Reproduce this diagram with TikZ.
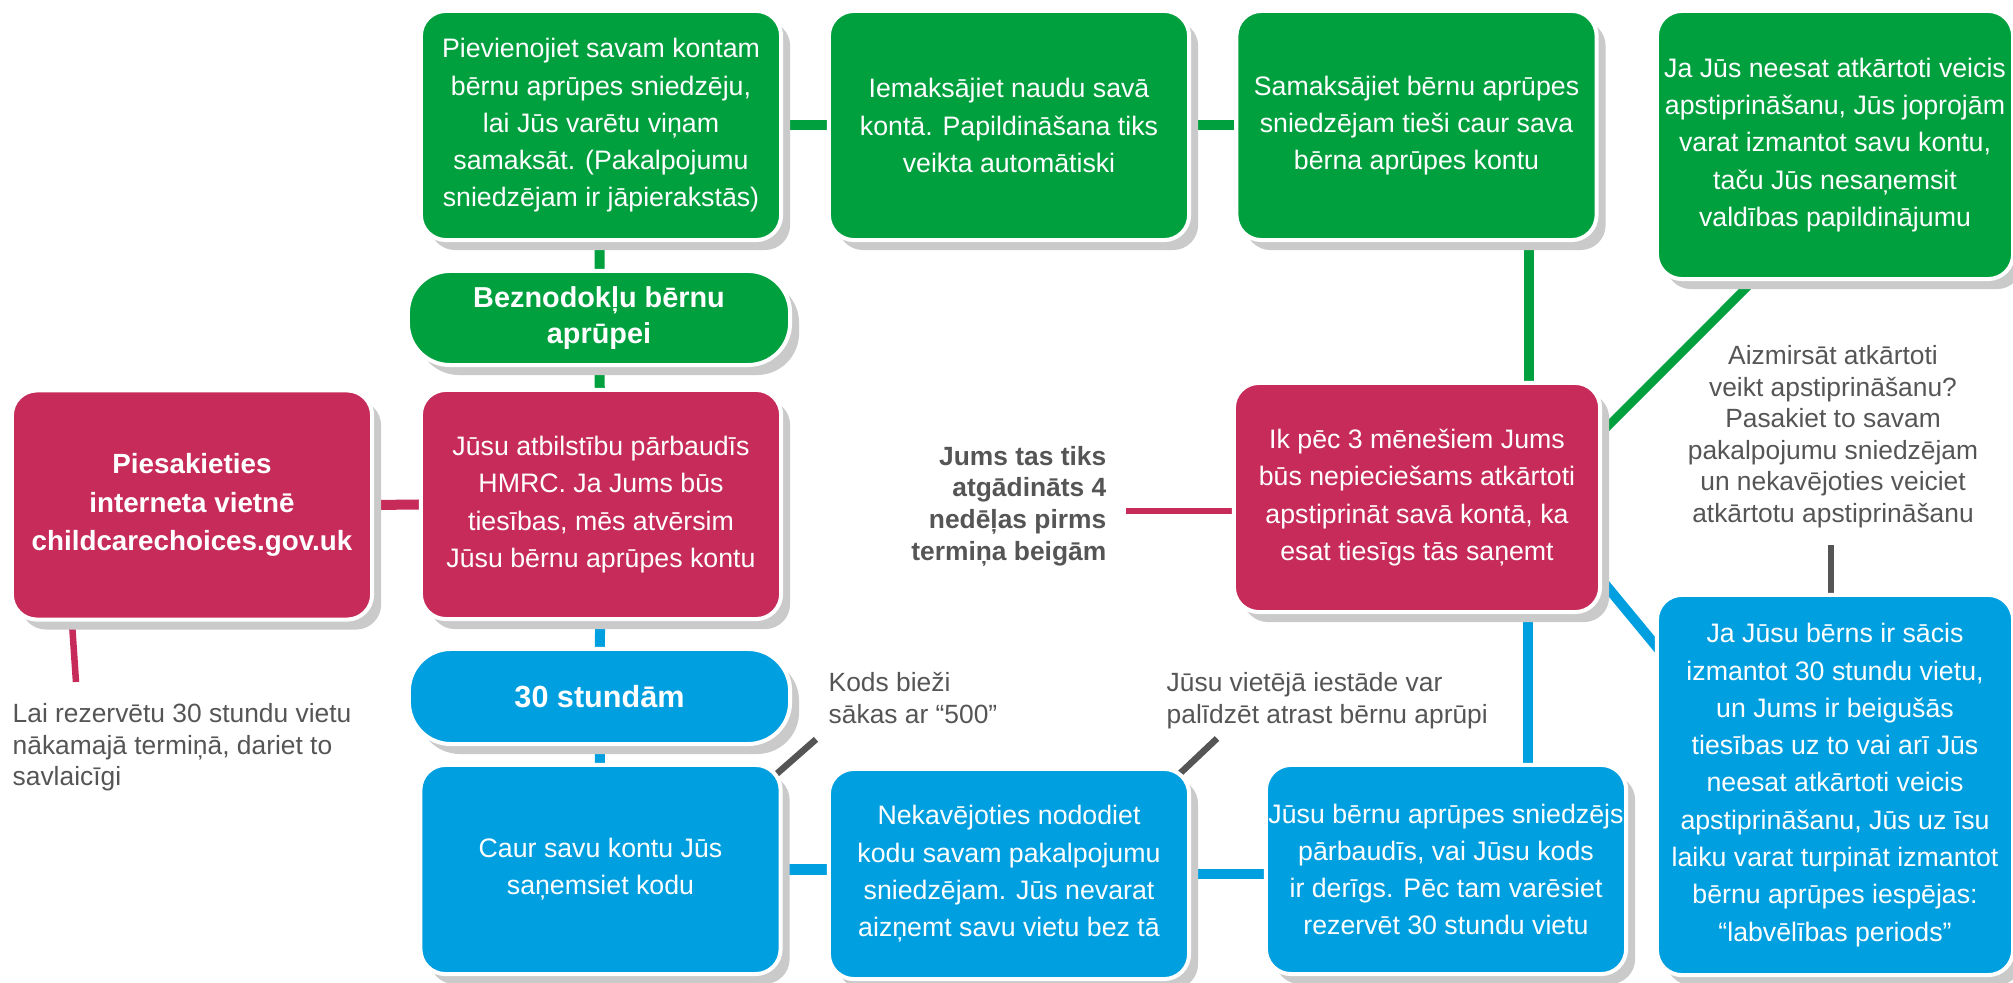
\documentclass[tikz,border=0pt]{standalone}
\usepackage{fontspec}
\setmainfont{Liberation Sans}
\usetikzlibrary{calc,shadows,backgrounds}
\definecolor{ccgreen}{HTML}{00A03E}
\definecolor{ccpink}{HTML}{C62B5A}
\definecolor{ccblue}{HTML}{009FE0}
\definecolor{ccgrey}{HTML}{555555}
\definecolor{ccshadow}{HTML}{CACACA}
\tikzset{
  card/.style={rectangle, rounded corners=0.25cm, fill=#1, draw=white, line width=0.04cm,
    drop shadow={shadow xshift=0.09cm, shadow yshift=-0.10cm, fill=ccshadow, opacity=1},
    text=white, align=center, inner sep=0pt, font=\fontsize{7.6}{10.6}\selectfont},
  pill/.style={card=#1, rounded corners=0.42cm, font=\fontsize{8.2}{10.2}\selectfont\bfseries},
  std/.style={minimum width=3.60cm, minimum height=2.29cm},
  low/.style={minimum width=3.60cm, minimum height=2.09cm},
  link/.style={line width=0.1cm, draw=#1},
  thin link/.style={line width=0.065cm, draw=#1},
  note/.style={text=ccgrey, inner sep=0pt, font=\fontsize{7.5}{8.95}\selectfont},
}
\begin{document}
\begin{tikzpicture}[x=0.01cm, y=-0.01cm]
\useasboundingbox (0,0) rectangle (2013,983);
\node[card=ccgreen, std] (g1) at (601,125.5) {Pievienojiet savam kontam\\bērnu aprūpes sniedzēju,\\lai Jūs varētu viņam\\samaksāt. (Pakalpojumu\\sniedzējam ir jāpierakstās)};
\node[card=ccgreen, std] (g2) at (1009,125.5) {Iemaksājiet naudu savā\\kontā. Papildināšana tiks\\veikta automātiski};
\node[card=ccgreen, std] (g3) at (1416.5,125.5) {Samaksājiet bērnu aprūpes\\sniedzējam tieši caur sava\\bērna aprūpes kontu};
\node[card=ccgreen, minimum width=3.56cm, minimum height=2.68cm] (g4) at (1835,145) {Ja Jūs neesat atkārtoti veicis\\apstiprināšanu, Jūs joprojām\\varat izmantot savu kontu,\\taču Jūs nesaņemsit\\valdības papildinājumu};
\node[pill=ccgreen, minimum width=3.82cm, minimum height=0.94cm] (gp) at (599,318) {Beznodokļu bērnu\\aprūpei};
\node[card=ccpink, std, font=\fontsize{7.9}{10.9}\selectfont\bfseries] (p1) at (192,505) {Piesakieties\\interneta vietnē\\childcarechoices.gov.uk};
\node[card=ccpink, std] (p2) at (601,504.5) {Jūsu atbilstību pārbaudīs\\HMRC. Ja Jums būs\\tiesības, mēs atvērsim\\Jūsu bērnu aprūpes kontu};
\node[card=ccpink, std, minimum width=3.66cm] (p3) at (1417,497.5) {Ik pēc 3 mēnešiem Jums\\būs nepieciešams atkārtoti\\apstiprināt savā kontā, ka\\esat tiesīgs tās saņemt};
\node[pill=ccblue, minimum width=3.81cm, minimum height=0.95cm, font=\fontsize{8.7}{10.2}\selectfont\bfseries] (bp) at (599.5,696.5) {30 stundām};
\node[card=ccblue, low] (b1) at (600.5,869.5) {Caur savu kontu Jūs\\saņemsiet kodu};
\node[card=ccblue, low, minimum height=2.10cm] (b2) at (1009,874) {Nekavējoties nododiet\\kodu savam pakalpojumu\\sniedzējam. Jūs nevarat\\aizņemt savu vietu bez tā};
\node[card=ccblue, low] (b3) at (1446,869.5) {Jūsu bērnu aprūpes sniedzējs\\pārbaudīs, vai Jūsu kods\\ir derīgs. Pēc tam varēsiet\\rezervēt 30 stundu vietu};
\node[card=ccblue, minimum width=3.56cm, minimum height=3.80cm] (b4) at (1835,785) {Ja Jūsu bērns ir sācis\\izmantot 30 stundu vietu,\\un Jums ir beigušās\\tiesības uz to vai arī Jūs\\neesat atkārtoti veicis\\apstiprināšanu, Jūs uz īsu\\laiku varat turpināt izmantot\\bērnu aprūpes iespējas:\\“labvēlības periods”};
\node[note, anchor=north west, align=left] (lai) at (12,703) {Lai rezervētu 30 stundu vietu\\nākamajā termiņā, dariet to\\savlaicīgi};
\node[note, anchor=east, align=right, font=\fontsize{7.5}{9}\selectfont\bfseries] (remind) at (1107,506) {Jums tas tiks\\atgādināts 4\\nedēļas pirms\\termiņa beigām};
\node[note, anchor=north, align=center] (forgot) at (1833,345) {Aizmirsāt atkārtoti\\veikt apstiprināšanu?\\Pasakiet to savam\\pakalpojumu sniedzējam\\un nekavējoties veiciet\\atkārtotu apstiprināšanu};
\node[note, anchor=north west, align=left] (kods) at (828,672) {Kods bieži\\sākas ar “500”};
\node[note, anchor=north west, align=left] (vietu) at (1166,672) {Jūsu vietējā iestāde var\\palīdzēt atrast bērnu aprūpi};
\begin{scope}[on background layer]
\foreach \a/\b in {g1/g2, g2/g3}
  \draw[link=ccgreen] (\a.east) -- (\b.west);
\draw[link=ccgreen] (g1) -- (gp);
\draw[link=ccgreen] (gp) -- (p2);
\draw[link=ccpink] (p1.east) -- (p2.west);
\draw[link=ccblue] (p2) -- (bp);
\draw[link=ccblue] (bp) -- (b1);
\foreach \a/\b in {b1/b2, b2/b3}
  \draw[link=ccblue] (\a.east) -- (\a.east -| \b.west);
\coordinate (c1) at ($(g3.south east)+(-70,0)$);
\draw[link=ccgreen] (c1) -- (c1 |- p3.north);
\coordinate (c2) at ($(p3.south east)+(-74,0)$);
\draw[link=ccblue] (c2) -- (c2 |- b3.north);
\draw[link=ccgreen, line width=0.085cm] ($(g4.south west)+(105,-7)$) -- ($(p3.north east)+(-8,59)$);
\draw[link=ccblue] ($(p3.south east)+(-8,-43)$) -- ($(b4.north west)+(6,59)$);
\draw[thin link=ccpink] ($(p1.south west)+(62,0)$) -- ($(lai.north west)+(64,-21)$);
\coordinate (r1) at ($(remind.east)+(19,5)$);
\draw[thin link=ccpink] (r1) -- (r1 -| p3.west);
\coordinate (f1) at ($(forgot.south)+(-2,17)$);
\draw[thin link=ccgrey] (f1) -- (f1 |- b4.north);
\draw[thin link=ccgrey] ($(b1.north east)+(-14,18)$) -- ($(kods.south west)+(-12,15)$);
\draw[thin link=ccgrey] ($(b2.north east)+(-18,13)$) -- ($(vietu.south west)+(51,9)$);
\end{scope}
\end{tikzpicture}
\end{document}
